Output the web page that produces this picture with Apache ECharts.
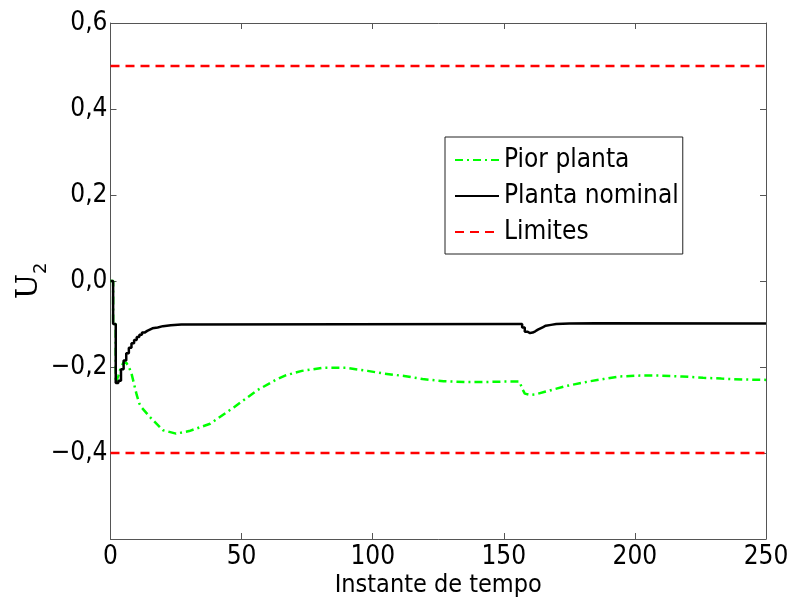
<!DOCTYPE html>
<html>
<head>
<meta charset="utf-8">
<title>U2</title>
<script src="https://cdn.jsdelivr.net/npm/echarts@6/dist/echarts.min.js"></script>
<style>
  html, body { margin: 0; padding: 0; background: #fff; }
  #chart { width: 795px; height: 606px; }
</style>
</head>
<body>
<div id="chart"></div>
<script>
// Control signal U2 over time: worst-case plant, nominal plant and limits.
const xTicks = [0, 50, 100, 150, 200, 250];
const yTicks = [-0.6, -0.4, -0.2, 0.0, 0.2, 0.4, 0.6];

// Nominal plant (sampled, zero-order hold)
const nominalT = [0, 1, 2, 3, 4, 5, 6, 7, 8, 9, 10, 11, 12, 13, 14, 15, 16, 18, 20, 23, 27, 156,
                  157, 158, 159, 160, 161, 162, 163, 164, 165, 166, 168, 170, 175, 185, 250];
const nominalU = [0, -0.1, -0.237, -0.232, -0.205, -0.185, -0.168, -0.155, -0.145, -0.137, -0.13,
                  -0.125, -0.12, -0.116, -0.113, -0.11, -0.108, -0.105, -0.103, -0.101, -0.1, -0.1,
                  -0.108, -0.118, -0.121, -0.12, -0.117, -0.113, -0.11, -0.107, -0.104, -0.102,
                  -0.1, -0.099, -0.098, -0.099, -0.1];

// Worst-case plant (first samples held like the nominal response)
const worstT = [0, 1, 1, 2, 2, 3, 4, 5, 6, 7, 8, 9, 10, 11, 12, 15, 20, 25, 30, 38, 47, 56, 63, 67, 73,
                81, 90, 98, 104, 112, 119, 127, 135, 142, 150, 156, 157, 158, 160, 162, 166, 174,
                183, 188, 194, 202, 210, 218, 226, 233, 241, 250];
const worstU = [0, 0, -0.1, -0.1, -0.237, -0.22, -0.2, -0.19, -0.19, -0.2, -0.215, -0.24, -0.265, -0.285,
                -0.295, -0.316, -0.347, -0.355, -0.349, -0.332, -0.294, -0.254, -0.23, -0.219,
                -0.209, -0.202, -0.202, -0.209, -0.215, -0.221, -0.228, -0.233, -0.235, -0.235,
                -0.234, -0.234, -0.25, -0.262, -0.265, -0.264, -0.257, -0.244, -0.233, -0.228,
                -0.222, -0.22, -0.22, -0.222, -0.225, -0.227, -0.229, -0.23];

// Constraint levels
const limitUpper = 0.5;
const limitLower = -0.4;
const tRange = [0, 250];

const pair = (ts, vs) => ts.map((t, i) => [t, vs[i]]);

const FONT = "'DejaVu Sans Condensed', 'DejaVu Sans', sans-serif";
const AXIS_COLOR = '#555';

function yFmt(v) {
  if (Math.abs(v + 0.6) < 1e-9) return '';
  const s = Math.abs(v).toFixed(1).replace('.', ',');
  return (v < -1e-9 ? '\u2212' : '') + s;
}

const chart = echarts.init(document.getElementById('chart'), null, { renderer: 'canvas' });

const commonAxisLine = { show: true, onZero: false, lineStyle: { color: AXIS_COLOR, width: 1 } };
const commonTick = { show: true, inside: true, length: 6, lineStyle: { color: AXIS_COLOR, width: 1 } };

chart.setOption({
  animation: false,
  backgroundColor: '#fff',
  grid: { left: 110.5, right: 29, top: 23, bottom: 67, containLabel: false, outerBoundsMode: 'none' },
  xAxis: [
    {
      type: 'value', min: tRange[0], max: tRange[1], interval: 50,
      name: 'Instante de tempo', nameLocation: 'middle', nameGap: 34, nameMoveOverlap: false,
      nameTextStyle: { fontFamily: FONT, fontSize: 25, color: '#000' },
      axisLine: commonAxisLine, axisTick: commonTick,
      axisLabel: { fontFamily: FONT, fontSize: 26, color: '#000', margin: 5, showMinLabel: true, showMaxLabel: true },
      splitLine: { show: false }
    },
    {
      type: 'value', position: 'top', min: tRange[0], max: tRange[1], interval: 50,
      axisLine: commonAxisLine, axisTick: commonTick, axisLabel: { show: false }, splitLine: { show: false }
    }
  ],
  yAxis: [
    {
      type: 'value', min: yTicks[0], max: yTicks[yTicks.length - 1], interval: 0.2,
      name: 'U{sub|2}', nameLocation: 'middle', nameGap: 60, nameMoveOverlap: false,
      nameTextStyle: {
        fontFamily: "'DejaVu Serif', 'Liberation Serif', serif", fontSize: 30, color: '#000',
        rich: { sub: { fontFamily: "'DejaVu Sans', sans-serif", fontSize: 18, color: '#000', verticalAlign: 'bottom', padding: [24, 0, 0, 0] } }
      },
      axisLine: commonAxisLine, axisTick: commonTick,
      axisLabel: { fontFamily: FONT, fontSize: 26, color: '#000', margin: 3, formatter: yFmt, showMinLabel: true, showMaxLabel: true },
      splitLine: { show: false }
    },
    {
      type: 'value', position: 'right', min: yTicks[0], max: yTicks[yTicks.length - 1], interval: 0.2,
      axisLine: commonAxisLine, axisTick: commonTick, axisLabel: { show: false }, splitLine: { show: false }
    }
  ],
  legend: {
    orient: 'vertical', left: 445, top: 137,
    backgroundColor: '#fff', borderColor: '#222', borderWidth: 1, borderRadius: 0,
    padding: [10, 4, 9, 9], itemGap: 10, itemWidth: 44, itemHeight: 14,
    itemStyle: { opacity: 0 },
    textStyle: { fontFamily: FONT, fontSize: 26, color: '#000', lineHeight: 26 },
    data: ['Pior planta', 'Planta nominal', 'Limites']
  },
  series: [
    {
      name: 'Limites', type: 'line', symbol: 'none', xAxisIndex: 0, yAxisIndex: 0,
      lineStyle: { color: '#ff0000', width: 2.5, type: [9, 6] },
      data: [[tRange[0], limitUpper], [tRange[1], limitUpper], [tRange[1], '-'], [tRange[0], limitLower], [tRange[1], limitLower]],
      z: 2
    },
    {
      name: 'Pior planta', type: 'line', symbol: 'none',
      lineStyle: { color: '#00ff00', width: 2.5, type: [8, 4, 2, 4] },
      data: pair(worstT, worstU), z: 3
    },
    {
      name: 'Planta nominal', type: 'line', symbol: 'none', step: 'end',
      lineStyle: { color: '#000', width: 2.5 },
      data: pair(nominalT, nominalU), z: 4
    }
  ]
});
</script>
</body>
</html>
